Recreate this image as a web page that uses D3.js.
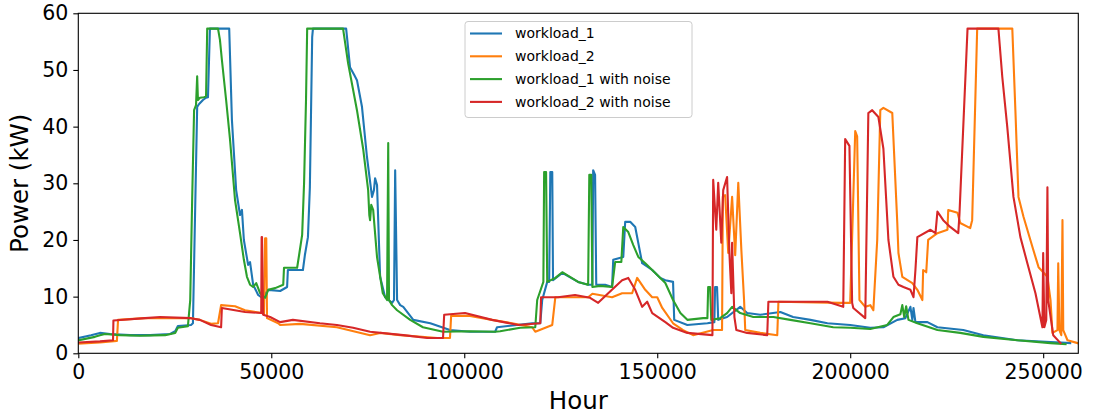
<!DOCTYPE html>
<html>
<head>
<meta charset="utf-8">
<script src="https://cdn.jsdelivr.net/npm/d3@7/dist/d3.min.js"></script>
<style>
  html, body { margin: 0; padding: 0; background: #fff; }
  svg { display: block; font-family: "DejaVu Sans", sans-serif; }
</style>
</head>
<body>
<svg id="chart" width="1093" height="416"></svg>
<script>
// ---- data (hours, kW) ----
const seriesNames = ["workload_1", "workload_2", "workload_1 with noise", "workload_2 with noise"];
const xTicks = [0, 50000, 100000, 150000, 200000, 250000];
const yTicks = [0, 10, 20, 30, 40, 50, 60];

const workload1 = [
  [0,2.7],[3300,3.2],[5600,3.6],[8200,3.4],[13400,3.2],[18600,3.2],[23800,3.4],[25100,3.9],[25800,4.8],[29200,5.0],[29700,5.3],
  [30800,43.5],[31300,44.0],[32300,44.7],[33100,45.1],[33600,45.2],[34100,57.3],[39100,57.3],[39800,41.2],[40900,28.8],[41900,24.4],
  [42400,25.3],[42900,20.0],[44000,15.6],[44500,16.1],[45300,12.1],[46600,10.3],[47600,9.8],[49200,11.2],[52300,11.0],[54100,11.7],
  [54300,14.7],[58200,14.7],[58700,17.3],[59500,20.5],[60000,29.3],[60600,55.8],[60800,57.3],[69400,57.3],[70400,50.5],[71500,49.1],
  [72200,48.2],[73500,43.5],[74800,34.6],[76100,27.6],[76600,28.8],[76900,30.9],[77400,29.7],[78200,13.5],[79500,9.9],[81300,8.9],
  [81800,9.4],[82100,32.3],[82600,9.4],[83400,8.5],[84200,8.2],[86800,5.9],[91200,5.3],[96300,4.1],[101500,3.8],[108000,3.8],
  [108500,4.6],[117600,5.3],[119700,5.3],[120200,9.4],[121500,12.6],[122000,12.6],[122300,32.0],[122800,32.0],[123000,12.9],
  [125400,14.2],[129500,12.6],[132100,12.1],[133200,12.1],[133400,32.3],[133900,31.5],[134200,12.1],[136500,12.1],[138300,11.7],
  [138600,16.5],[141200,17.0],[141700,23.2],[143000,23.2],[144300,22.3],[146100,15.9],[148700,14.7],[150800,13.3],[152100,12.9],
  [154100,12.6],[154400,5.9],[157800,5.0],[163000,5.3],[164800,5.5],[165000,11.7],[165500,11.7],[165800,5.9],[168100,6.4],
  [171500,8.2],[173300,7.1],[176700,6.8],[181900,7.3],[185200,6.4],[189700,5.9],[194100,5.3],[200000,5.0],[205200,4.5],[208600,4.6],
  [212200,5.9],[214300,6.2],[215600,8.2],[216100,5.9],[216400,8.0],[216900,5.5],[220000,5.5],[222600,4.6],[229300,4.1],[234500,3.2],
  [243300,2.3],[251900,2.0],[257000,1.8]
];

const workload2 = [
  [0,1.7],[5600,1.9],[10000,2.2],[10300,5.9],[17300,6.2],[29200,6.2],[31500,5.9],[34400,5.2],[36200,5.3],[37000,8.5],[40600,8.3],
  [43200,7.6],[47600,7.1],[48100,6.8],[48400,20.3],[48700,20.3],[48900,6.2],[51800,5.3],[52300,5.0],[57500,5.2],[67000,4.6],
  [75600,3.2],[78200,3.6],[83400,3.2],[93000,2.7],[96300,2.7],[96600,6.6],[101500,6.6],[107200,5.9],[112400,5.3],[117600,4.6],
  [118400,3.8],[122800,5.0],[123600,9.9],[128700,9.9],[132100,9.9],[133200,10.5],[138300,9.9],[140900,10.6],[143500,10.6],
  [144800,13.3],[146900,11.2],[148700,9.9],[150000,9.9],[151300,8.0],[154100,5.3],[156700,4.1],[159300,3.2],[164500,4.1],
  [166800,4.1],[167000,27.6],[167600,27.9],[168400,17.7],[169400,27.6],[170200,17.3],[171000,30.1],[171800,18.2],[172500,9.4],
  [172800,4.1],[176700,3.6],[181100,3.2],[181400,9.1],[197400,8.9],[200000,8.9],[201300,39.2],[201800,38.3],[202400,9.4],
  [203900,8.2],[205200,8.5],[206000,7.6],[207000,20.0],[207800,42.9],[208600,43.3],[210900,42.4],[212200,23.0],[212500,17.7],
  [213500,13.5],[216100,12.4],[217400,11.2],[218700,9.4],[218900,14.7],[219700,14.3],[220200,20.0],[222600,21.2],[225200,21.8],
  [225400,25.3],[227800,24.8],[228500,23.0],[231100,22.1],[231600,23.5],[232900,57.3],[242000,57.3],[242800,42.9],[243600,27.6],
  [244900,24.1],[247200,18.8],[248800,15.2],[251100,13.5],[251900,9.4],[252400,3.6],[253700,4.1],[253900,15.9],[254200,4.1],
  [254700,3.2],[255000,23.5],[255200,4.1],[256300,2.3],[258900,1.8]
];

const workload1Noise = [
  [0,2.3],[4300,2.9],[5600,3.2],[6900,3.4],[10800,3.2],[16000,3.1],[22500,3.2],[25100,3.6],[25800,4.5],[28400,4.8],[29000,9.4],
  [29500,27.1],[30000,42.9],[30500,43.8],[30800,48.9],[31000,44.7],[31500,45.1],[32600,45.2],[33100,45.4],[33400,57.3],[36200,57.3],
  [36700,55.3],[37200,51.8],[38300,44.7],[39300,37.8],[40600,27.1],[41900,21.2],[42900,16.5],[43700,13.5],[44500,12.1],[45300,11.7],
  [46100,12.4],[47100,10.6],[48400,9.8],[49200,11.2],[51000,11.5],[53100,12.1],[53300,15.1],[56700,15.1],[57200,17.3],[58000,20.9],
  [58500,30.1],[59000,44.7],[59300,57.3],[68600,57.3],[69900,51.2],[72200,42.9],[73800,36.1],[75100,28.8],[75400,24.4],[75600,23.5],
  [75900,26.2],[76400,25.3],[77400,17.0],[78900,10.6],[80000,9.4],[80300,37.1],[80500,9.4],[81300,8.5],[82600,7.6],[86000,5.9],
  [89300,4.6],[94500,3.8],[101500,3.9],[108000,3.8],[109300,3.9],[114500,4.5],[118400,4.6],[118900,9.4],[120500,12.6],[120700,32.0],
  [121200,32.0],[121500,12.6],[123600,13.3],[125400,14.3],[127400,13.5],[129500,12.6],[132100,12.1],[132400,31.5],[132900,31.5],
  [133200,11.7],[135200,11.9],[138300,11.7],[139100,16.1],[140700,16.1],[141200,22.3],[142500,21.4],[143800,19.1],[145100,17.0],
  [146900,15.9],[148700,14.7],[150800,13.3],[152100,12.4],[154100,9.4],[156000,7.1],[157800,5.9],[161900,6.2],[163000,6.2],
  [163200,11.7],[163700,11.7],[164000,5.9],[166300,6.2],[168100,7.1],[169400,8.2],[171500,7.1],[174900,6.4],[180100,6.4],
  [184500,5.9],[189700,5.3],[195600,4.6],[200000,4.5],[205200,4.3],[209600,5.0],[211200,6.4],[213000,6.9],[213500,8.5],[214000,6.4],
  [214500,8.3],[215100,5.9],[217400,5.3],[222600,4.1],[228500,3.6],[234500,2.9],[243300,2.3],[251900,1.8],[255800,1.6]
];

const workload2Noise = [
  [0,1.9],[5600,2.1],[9000,2.3],[9100,5.8],[17300,6.2],[21200,6.4],[29200,6.2],[31500,5.9],[34400,5.0],[37000,4.6],[37200,8.0],
  [43200,7.3],[47400,7.1],[47500,20.5],[47600,20.5],[47900,6.8],[49700,6.4],[52300,5.5],[55600,5.9],[62600,5.3],[67000,5.0],
  [71200,4.5],[75600,3.8],[84200,3.2],[90400,2.7],[94500,2.7],[94800,6.8],[100200,7.1],[107200,5.9],[114000,5.0],[119700,5.3],
  [119900,9.9],[124300,9.9],[128700,10.3],[132600,9.8],[134700,8.9],[137300,10.6],[140900,12.9],[142500,13.3],[144300,11.2],
  [146100,8.2],[147400,9.1],[148700,7.1],[152100,5.5],[154100,4.5],[157800,3.6],[164300,3.2],[164500,30.6],[165300,21.8],
  [165800,30.1],[166600,19.5],[167100,28.8],[168100,31.1],[168700,17.7],[169200,10.6],[169400,19.5],[170000,6.4],[170500,4.1],
  [173300,3.6],[178500,3.2],[178800,9.1],[187100,9.1],[194100,9.1],[198200,8.2],[198700,37.8],[199800,36.6],[200500,8.9],
  [200800,8.0],[203900,6.2],[204700,42.4],[205700,42.9],[207300,41.7],[208600,36.1],[209900,20.0],[211200,13.5],[212500,12.1],
  [213800,11.7],[215600,11.2],[216400,9.9],[216900,14.7],[217400,20.5],[220800,21.8],[222100,21.2],[222600,25.0],[224100,23.5],
  [225900,22.3],[228000,21.2],[228300,24.4],[230400,57.3],[238400,57.3],[239400,48.8],[240700,39.9],[242300,27.6],[244100,20.5],
  [245900,15.9],[248000,10.6],[249800,4.6],[250000,17.7],[250300,4.6],[250800,5.9],[251100,29.3],[251300,9.4],[252600,3.2],
  [254500,1.8]
];

const seriesData = [workload1, workload2, workload1Noise, workload2Noise];
const colors = ["#1f77b4", "#ff7f0e", "#2ca02c", "#d62728"];

// ---- layout ----
const svg = d3.select("#chart");
const pLeft = 78.3, pRight = 1078.3, pTop = 13.3, pBottom = 353.3;

const x = d3.scaleLinear().domain([0, 259100]).range([pLeft, pRight]);
const y = d3.scaleLinear().domain([0, 60]).range([pBottom, pTop]);

svg.append("defs").append("clipPath").attr("id", "clip")
  .append("rect").attr("x", pLeft).attr("y", pTop).attr("width", pRight - pLeft).attr("height", pBottom - pTop);

const line = d3.line().x(d => x(d[0])).y(d => y(d[1]));

const g = svg.append("g").attr("clip-path", "url(#clip)");
seriesData.forEach((s, i) => {
  g.append("path").datum(s)
    .attr("d", line)
    .attr("fill", "none")
    .attr("stroke", colors[i])
    .attr("stroke-width", 2.1)
    .attr("stroke-linejoin", "round")
    .attr("stroke-linecap", "square");
});

// axes
const xAxis = d3.axisBottom(x).tickValues(xTicks).tickFormat(d3.format("d")).tickSize(5).tickPadding(5);
const yAxis = d3.axisLeft(y).tickValues(yTicks).tickFormat(d3.format("d")).tickSize(5).tickPadding(5);

const gx = svg.append("g").attr("transform", `translate(0,${pBottom})`).call(xAxis);
const gy = svg.append("g").attr("transform", `translate(${pLeft},0)`).call(yAxis);
[gx, gy].forEach(a => {
  a.select(".domain").remove();
  a.selectAll(".tick line").attr("stroke", "#000").attr("stroke-width", 1.1);
  a.selectAll(".tick text").attr("fill", "#000").style("font-size", "20.5px").style("font-family", "DejaVu Sans");
});
gx.selectAll(".tick text").attr("dy", "0.76em");

// spines
svg.append("rect").attr("x", pLeft).attr("y", pTop).attr("width", pRight - pLeft).attr("height", pBottom - pTop)
  .attr("fill", "none").attr("stroke", "#000").attr("stroke-width", 1.1);

// axis labels
svg.append("text").attr("x", (pLeft + pRight) / 2).attr("y", 409)
  .attr("text-anchor", "middle").style("font-size", "24.5px").text("Hour");
svg.append("text").attr("transform", `translate(28,${(pTop + pBottom) / 2}) rotate(-90)`)
  .attr("text-anchor", "middle").style("font-size", "24.5px").text("Power (kW)");

// legend
const lg = svg.append("g");
lg.append("rect").attr("x", 465).attr("y", 21.5).attr("width", 227).attr("height", 96)
  .attr("rx", 3).attr("fill", "#fff").attr("fill-opacity", 0.8).attr("stroke", "#cccccc").attr("stroke-width", 1);
seriesNames.forEach((n, i) => {
  const yy = 33.5 + i * 22.8;
  lg.append("line").attr("x1", 470).attr("x2", 502).attr("y1", yy).attr("y2", yy)
    .attr("stroke", colors[i]).attr("stroke-width", 2.1);
  lg.append("text").attr("x", 515).attr("y", yy).attr("dy", "0.35em")
    .style("font-size", "14px").attr("fill", "#000").text(n);
});
</script>
</body>
</html>
